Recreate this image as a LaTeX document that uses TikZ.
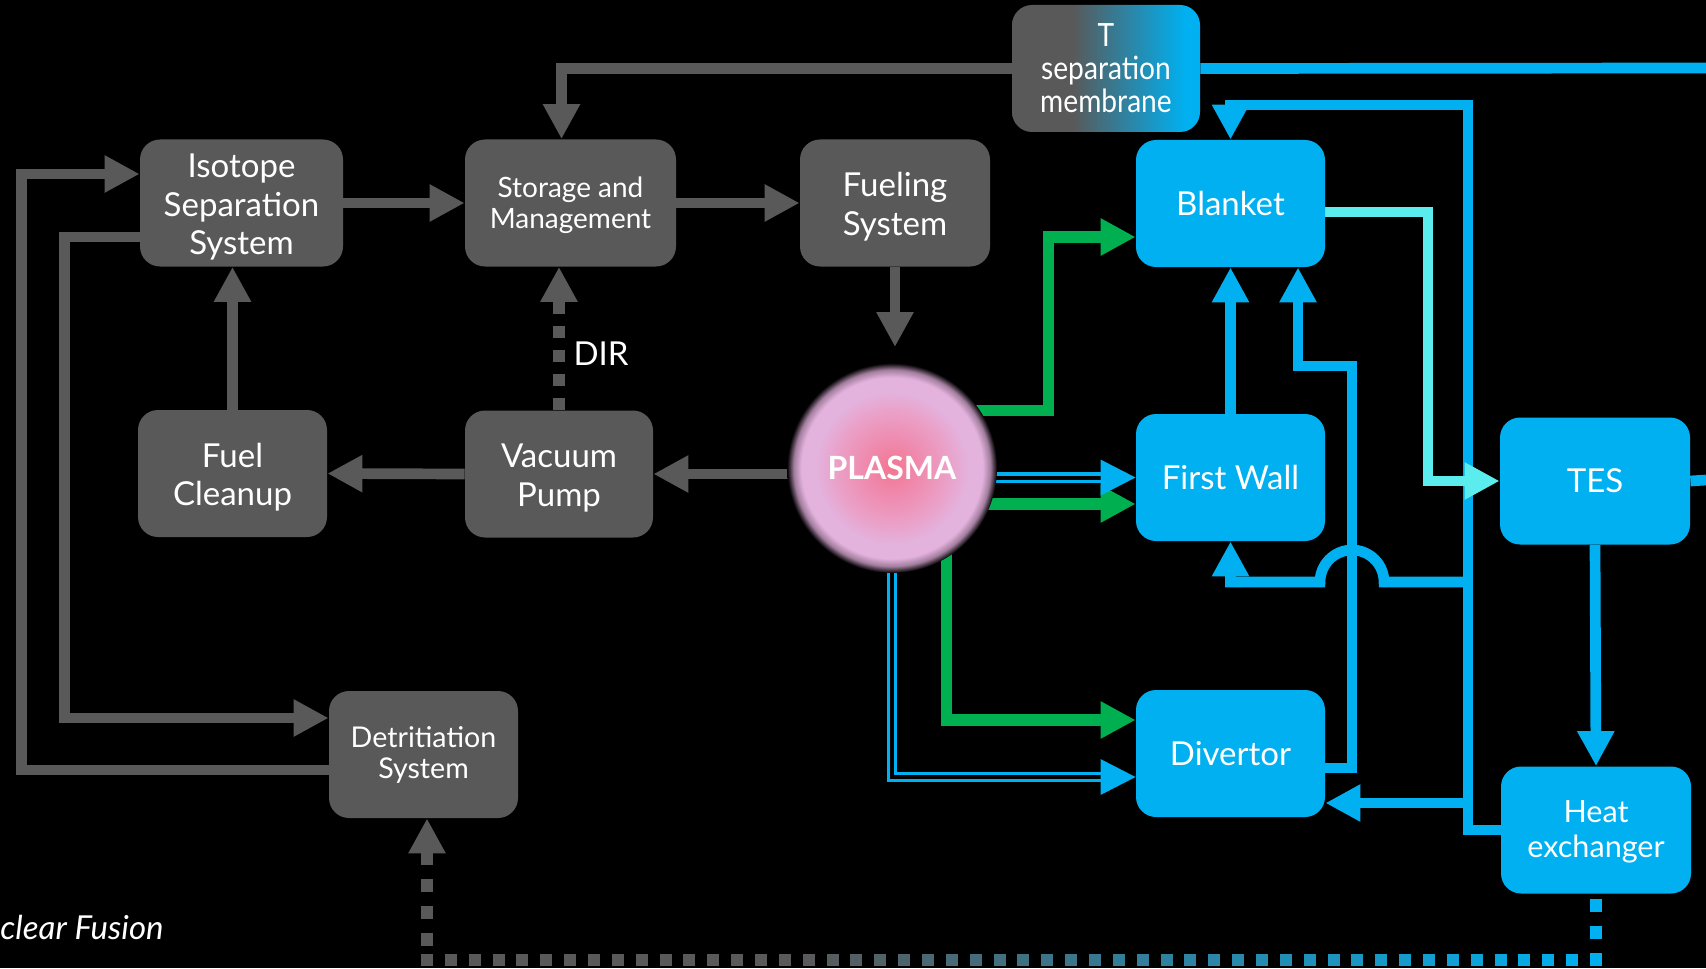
\documentclass[tikz,border=0pt]{standalone}
\usepackage{fontspec}
\setmainfont{Lato}
\newfontfamily\narrowfont[FakeStretch=0.88]{Lato}
\usetikzlibrary{arrows.meta,calc}

\definecolor{boxgray}{HTML}{595959}
\definecolor{coolblue}{HTML}{00B0F0}
\definecolor{flowgreen}{HTML}{00B050}
\definecolor{aqua}{HTML}{5BEDED}
\definecolor{plasmacore}{HTML}{F2768F}
\definecolor{plasmainner}{HTML}{EF8AAE}
\definecolor{plasmamid}{HTML}{EB9FC6}
\definecolor{plasmarim}{HTML}{E3B2DD}
\definecolor{plasmaedge}{HTML}{A27E9E}

\newcommand\mainlab{\fontsize{16.5pt}{19.3pt}\selectfont}
\newcommand\smalllab{\fontsize{14pt}{15.75pt}\selectfont}
\newcommand\detlab{\fontsize{14.3pt}{15.75pt}\selectfont}
\newcommand\hxlab{\fontsize{15.3pt}{17.5pt}\selectfont}
\newcommand\narrowlab{\narrowfont\fontsize{16pt}{16.5pt}\selectfont}
\newcommand\plasmalab{\bfseries\fontsize{16pt}{19pt}\selectfont}
\newcommand\itlab{\itshape\fontsize{16.5pt}{19pt}\selectfont}
% taller first line, so stacked labels sit a little lower in their boxes
\newcommand\lowerfirst[1][16pt]{\rule{0pt}{#1}}

\pgfdeclarelayer{backdrop}
\pgfdeclarelayer{lines}
\pgfdeclarelayer{glow}
\pgfsetlayers{backdrop,lines,glow,main}

% soft-edged plasma ball: edge of the shaded disc is at 25bp
\pgfdeclareradialshading{plasmashade}{\pgfpoint{0bp}{0bp}}{%
  color(0bp)=(plasmacore); color(6.5bp)=(plasmainner); color(13bp)=(plasmamid);
  color(18bp)=(plasmarim); color(21.6bp)=(plasmarim); color(23.4bp)=(plasmaedge);
  color(25bp)=(black); color(50bp)=(black)}
% grey-to-blue fill of the membrane box
\pgfdeclarehorizontalshading{membraneshade}{100bp}{%
  color(0bp)=(boxgray); color(41bp)=(boxgray); color(71bp)=(coolblue); color(100bp)=(coolblue)}

\begin{document}
\begin{tikzpicture}[x=0.5pt,y=-0.5pt,
  >={Triangle[length=17.5pt,width=17.5pt]},
  box/.style={rounded corners=10pt, minimum height=63.5pt, inner sep=0pt,
    align=center, text=white, font=\mainlab},
  graybox/.style={box, fill=boxgray},
  bluebox/.style={box, fill=coolblue},
  gflow/.style={draw=boxgray, line width=5.35pt, ->},
  dirflow/.style={draw=boxgray, line width=6pt, dash pattern=on 6pt off 6pt, ->},
  bflow/.style={draw=coolblue, line width=5.35pt, ->},
  greenflow/.style={draw=flowgreen, line width=5.6pt, ->},
  aquaflow/.style={draw=aqua, line width=4.7pt, ->},
  twin/.style={draw=coolblue, line width=1.65pt, double=black, double distance=2pt, ->},
  graydots/.style={draw=boxgray, line width=6pt, dash pattern=on 6.5pt off 7pt, ->},
  bluedots/.style={draw=coolblue, line width=6pt, dash pattern=on 6.5pt off 7pt}]

\useasboundingbox (0,0) rectangle (1706,968);
\begin{pgfonlayer}{backdrop}
  \fill[black] (0,0) rectangle (1706,968);
\end{pgfonlayer}

% ---- blocks ----
\node[graybox, minimum width=101.5pt] (iss) at (241.5,203) {\lowerfirst Isotope\\Separation\\System};
\node[graybox, minimum width=105.5pt, font=\smalllab] (sm) at (570.5,203) {\lowerfirst[12.7pt]Storage and\\Management};
\node[graybox, minimum width=95pt] (fs) at (895,203) {\lowerfirst Fueling\\System};
\node[box, minimum width=94pt, shade, shading=membraneshade, font=\narrowlab] (tsm) at (1106,68.5) {T\\separation\\membrane};
\node[bluebox, minimum width=94.5pt] (blk) at (1230.5,203.5) {Blanket};
\node[graybox, minimum width=94.5pt] (fc) at (232.5,473.5) {\lowerfirst Fuel\\Cleanup};
\node[graybox, minimum width=94pt] (vp) at (559,474) {\lowerfirst Vacuum\\Pump};
\node[bluebox, minimum width=94.5pt] (fw) at (1230.5,477.5) {First Wall};
\node[bluebox, minimum width=95pt] (tes) at (1595,481) {TES};
\node[graybox, minimum width=94.5pt, font=\detlab] (det) at (423.5,754.5) {\lowerfirst[11pt]Detritiation\\System};
\node[bluebox, minimum width=94.5pt] (div) at (1230.5,753.5) {Divertor};
\node[bluebox, minimum width=95pt, font=\hxlab] (hx) at (1596,830) {\lowerfirst[12.8pt]Heat\\exchanger};
\node[circle, minimum size=100pt, inner sep=0pt, text=white, font=\plasmalab] (plasma) at (892,468) {PLASMA};
\node[text=white, font=\mainlab, inner sep=0pt] (dirlabel) at (601,354) {DIR};
\node[anchor=west, text=white, font=\itlab, inner sep=0pt] (caption) at (0,927) {clear Fusion};

% free ends and junctions
\coordinate (fuelin) at (895,347);
\coordinate (jfw) at (1468,582);
\coordinate (jdiv) at (1468,803);
\coordinate (tesout) at (1706,480);
\coordinate (tsmout) at (1706,68);
\coordinate (hxdrop) at (1596,899);
\coordinate (loopR) at (1596,960);
\coordinate (loopLup) at (427,946);

\begin{pgfonlayer}{glow}
  \shade[shading=plasmashade] (plasma.center) circle[radius=105];
\end{pgfonlayer}

\begin{pgfonlayer}{lines}
% fuel cycle (grey)
\draw[gflow] (iss.east) -- (sm.west);
\draw[gflow] (sm.east) -- (fs.west);
\draw[gflow] (fs.south) -- (fuelin);
\draw[gflow] (fc.north) -- (fc.north |- iss.south);
\draw[dirflow] (vp.north) -- (vp.north |- sm.south);
\draw[gflow] (vp.west) -- (fc.east);
\draw[gflow] (vp.east -| plasma.west) -- (vp.east);
\draw[gflow] (tsm.west) -| ([xshift=-4.5pt]sm.north);
\draw[gflow] ([yshift=-17pt]iss.west) -- ++(-75,0) |- ([yshift=18.25pt]det.west);
\draw[gflow] ([yshift=-7.75pt]det.west) -- ++(-307,0) |- ([yshift=14.5pt]iss.west);

% coolant loop (blue)
\draw[bflow] (fw.north) -- (blk.south);
\draw[bflow] ([yshift=-7.25pt]div.east) -| (1352,366) -| ([xshift=33.75pt]blk.south);
\draw[bflow] (hx.west) -| (1468,105) -| (blk.north);
\draw[bflow] (jdiv) -- (jdiv -| div.east);
\draw[bflow] (jfw) -- (1384,582) arc[start angle=0, end angle=-180, radius=32] -| (fw.south);
\draw[bflow] (tes.south) -- (hx.north);
\draw[bflow, -] (tes.east) -- (tesout);
\draw[bflow, -] (tsm.east) -- (tsmout);
\draw[aquaflow] ([yshift=-4.25pt]blk.east) -- (1428,212) |- (tes.west);

% plasma heat and particle loads
\draw[greenflow] (plasma.35) -- ++(74,0) |- ([yshift=-16.75pt]blk.west);
\draw[greenflow] (plasma.-21) -- (plasma.-21 -| fw.west);
\draw[greenflow] (plasma.-57) |- ([yshift=16.75pt]div.west);
\draw[twin] (fw.west -| plasma.east) -- (fw.west);
\draw[twin] (plasma.south) |- ([yshift=-11.75pt]div.west);

% tritium recovery from the heat exchanger (dotted, grey to blue)
\draw[bluedots] (hxdrop) -- (loopR);
\foreach \i in {0,...,49}{
  \pgfmathsetmacro\xx{427+\i*23.857}
  \pgfmathtruncatemacro\pct{max(0,min(100,(\xx-800)/7.96))}
  \fill[coolblue!\pct!boxgray] (\xx-6,954) rectangle (\xx+6,966);
}
\draw[graydots] (loopLup) -- (loopLup |- det.south);
\end{pgfonlayer}
\end{tikzpicture}
\end{document}
